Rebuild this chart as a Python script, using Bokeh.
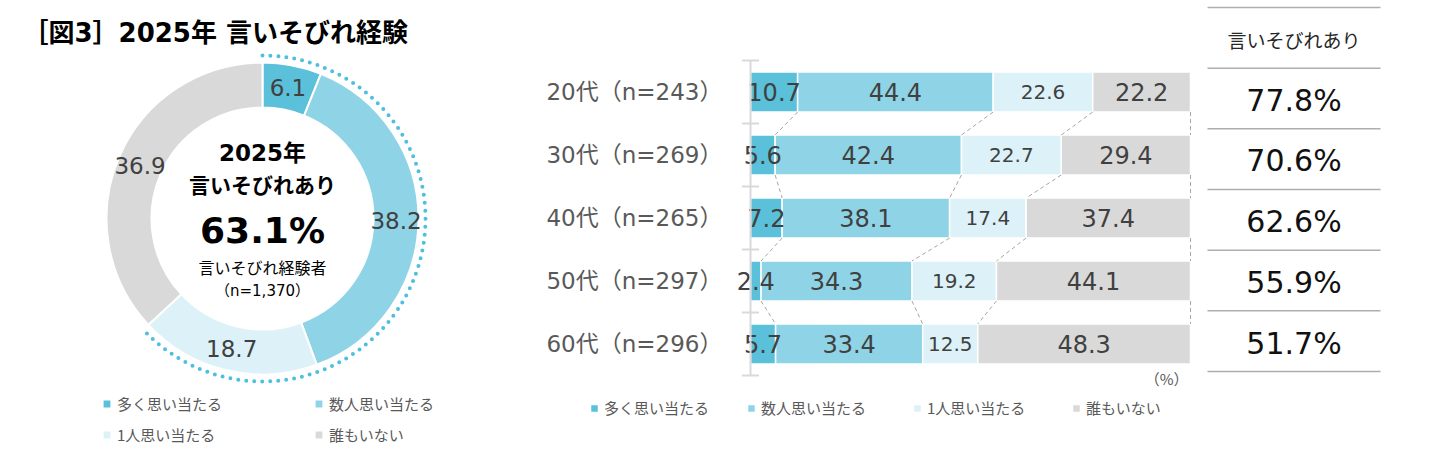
import math
from bokeh.plotting import figure
from bokeh.layouts import row
from bokeh.models import (Range1d, ColumnDataSource, Legend, LegendItem)
from bokeh.core.properties import value, field
from bokeh.embed import file_html
from bokeh.resources import INLINE

# ---------------- data ----------------
title_text = "［図3］2025年 言いそびれ経験"
answer_labels = ["多く思い当たる", "数人思い当たる", "1人思い当たる", "誰もいない"]
colors = ["#5BC0DA", "#8FD4E6", "#DDF2F8", "#D9D9D9"]

donut_values = [6.1, 38.2, 18.7, 36.9]
donut_center_lines = ["2025年", "言いそびれあり", "63.1%", "言いそびれ経験者", "（n=1,370）"]

age_labels = ["20代（n=243）", "30代（n=269）", "40代（n=265）", "50代（n=297）", "60代（n=296）"]
many = [10.7, 5.6, 7.2, 2.4, 5.7]
several = [44.4, 42.4, 38.1, 34.3, 33.4]
one = [22.6, 22.7, 17.4, 19.2, 12.5]
nobody = [22.2, 29.4, 37.4, 44.1, 48.3]

table_header = "言いそびれあり"
table_values = ["77.8%", "70.6%", "62.6%", "55.9%", "51.7%"]

# ---------------- fonts / styles ----------------
JP = "Noto Sans CJK JP"
MIX = "DejaVu Sans, Noto Sans CJK JP"
NUM = "DejaVu Sans"
LABEL_GRAY = "#404040"
LEG_GRAY = "#595959"
AXIS_GRAY = "#D9D9D9"
H = 460


def base_fig(width, xr, yr):
    p = figure(width=width, height=H, x_range=xr, y_range=yr,
               output_backend="svg", toolbar_location=None,
               x_axis_location=None, y_axis_location=None, min_border=0,
               outline_line_color=None, background_fill_color="white",
               border_fill_color="white")
    p.xgrid.visible = False
    p.ygrid.visible = False
    return p


def style_legend(lg, spacing, glyph=10):
    lg.label_text_font = JP
    lg.label_text_font_size = "15px"
    lg.label_text_color = LEG_GRAY
    lg.glyph_width = glyph
    lg.glyph_height = glyph
    lg.label_standoff = 5
    lg.label_height = 20
    lg.padding = 0
    lg.margin = 0
    lg.spacing = spacing
    lg.border_line_color = None
    lg.background_fill_alpha = 0


# ================= donut (1 unit = 1 px, centre of ring at origin) =================
pa = base_fig(470, Range1d(-262, 208), Range1d(218 - H, 218))

R_OUT, R_IN, R_DOT = 156, 111, 163
total = sum(donut_values)
starts, ends, lx, ly = [], [], [], []
c = 0.0
for v in donut_values:
    a0 = math.pi / 2 - 2 * math.pi * c / total
    c += v
    a1 = math.pi / 2 - 2 * math.pi * c / total
    starts.append(a0)
    ends.append(a1)
    mid = (a0 + a1) / 2
    rm = (R_OUT + R_IN) / 2
    lx.append(rm * math.cos(mid))
    ly.append(rm * math.sin(mid))

dsrc = ColumnDataSource(dict(start=starts, end=ends, color=colors,
                             lx=lx, ly=ly, txt=[f"{v:.1f}" for v in donut_values]))
wr = pa.annular_wedge(x=0, y=0, inner_radius=R_IN, outer_radius=R_OUT,
                      start_angle="start", end_angle="end", direction="clock",
                      fill_color="color", line_color="white", line_width=2, source=dsrc)
pa.text(x="lx", y="ly", text="txt", source=dsrc, text_font=value(NUM),
        text_font_size="23px", text_color=LABEL_GRAY, text_align="center",
        text_baseline="middle")

said_share = sum(donut_values[:3]) / total
pa.arc(x=0, y=0, radius=R_DOT, start_angle=math.pi / 2,
       end_angle=math.pi / 2 - 2 * math.pi * said_share, direction="clock",
       line_color="#4FBFE0", line_width=4, line_dash="0 8", line_cap="round")

center_y = [66, 33, -12, -50, -72]
center_fs = ["23px", "21px", "36px", "16px", "15px"]
center_st = ["bold", "bold", "bold", "normal", "normal"]
csrc = ColumnDataSource(dict(x=[0] * 5, y=center_y, t=donut_center_lines,
                             fs=center_fs, st=center_st))
pa.text(x="x", y="y", text="t", source=csrc, text_font=value(MIX),
        text_font_size=field("fs"), text_font_style=field("st"),
        text_color="#000000", text_align="center", text_baseline="middle")

pa.text(x=[-240], y=[186], text=[title_text], text_font=value(MIX),
        text_font_size="26px", text_font_style="bold", text_color="#000000",
        text_align="left", text_baseline="middle")

lg_a1 = Legend(items=[LegendItem(label=value(answer_labels[0]), renderers=[wr], index=0),
                      LegendItem(label=value(answer_labels[2]), renderers=[wr], index=2)],
               location=(101, 15), orientation="vertical")
lg_a2 = Legend(items=[LegendItem(label=value(answer_labels[1]), renderers=[wr], index=1),
                      LegendItem(label=value(answer_labels[3]), renderers=[wr], index=3)],
               location=(313, 15), orientation="vertical")
for lg in (lg_a1, lg_a2):
    style_legend(lg, 10, glyph=11)
    pa.add_layout(lg)

# ================= stacked bars =================
# x: 0..100 % maps to page x 750..1190 ; rows are 63 px apart starting at y=60
n = len(age_labels)
X0_PX, PX_PER_PCT, FIG_B_LEFT, FIG_B_W = 750, 4.4, 470, 730
ROW_PX, TOP_PX = 63, 60
xb = Range1d(-(X0_PX - FIG_B_LEFT) / PX_PER_PCT, (FIG_B_LEFT + FIG_B_W - X0_PX) / PX_PER_PCT)
yb = Range1d((H - TOP_PX) / ROW_PX - 0.5, -TOP_PX / ROW_PX - 0.5)
pb = base_fig(FIG_B_W, xb, yb)

series = [many, several, one, nobody]
keys = ["s0", "s1", "s2", "s3"]
ys = list(range(n))
row_tot = [sum(s[i] for s in series) for i in range(n)]
bdata = dict(y=ys)
for k, s in zip(keys, series):
    bdata[k] = [s[i] / row_tot[i] * 100 for i in range(n)]
bsrc = ColumnDataSource(bdata)
BAR_H = 0.635
brs = pb.hbar_stack(keys, y="y", height=BAR_H, color=colors, line_color="white",
                    line_width=1.5, source=bsrc)

cums = []
for i in range(n):
    acc = [0.0]
    for k in keys:
        acc.append(acc[-1] + bdata[k][i])
    cums.append(acc)

tx, ty, tt, tfs = [], [], [], []
for i in range(n):
    for j, s in enumerate(series):
        tx.append((cums[i][j] + cums[i][j + 1]) / 2)
        ty.append(i)
        tt.append(f"{s[i]:.1f}")
        tfs.append("20px" if j == 2 else "24px")
tsrc = ColumnDataSource(dict(x=tx, y=ty, t=tt, fs=tfs))
pb.text(x="x", y="y", text="t", source=tsrc, text_font=value(NUM),
        text_font_size=field("fs"), text_color=LABEL_GRAY,
        text_align="center", text_baseline="middle")

cx, cy = [], []
for i in range(n - 1):
    for k in range(1, len(keys) + 1):
        cx.append([cums[i][k], cums[i + 1][k]])
        cy.append([i + BAR_H / 2, i + 1 - BAR_H / 2])
pb.multi_line(xs=cx, ys=cy, line_color="#A6A6A6", line_width=1, line_dash="4 3")

# category axis (line, boundary ticks, labels)
bounds = [i - 0.5 for i in range(n + 1)]
pb.line(x=[0, 0], y=[bounds[0], bounds[-1]], line_color=AXIS_GRAY, line_width=2)
pb.scatter(x=[0] * len(bounds), y=bounds, marker="dash", size=17,
           line_color=AXIS_GRAY, line_width=2)
pb.text(x=[0] * n, y=ys, text=age_labels, x_offset=-28, text_font=value(MIX),
        text_font_size="23px", text_color=LEG_GRAY, text_align="right",
        text_baseline="middle")

# one legend entry per box so each sits where the reference puts it
leg_left = [119, 276, 442, 601]
for lab, r, lx_ in zip(answer_labels, brs, leg_left):
    lg_b = Legend(items=[LegendItem(label=value(lab), renderers=[r])],
                  location=(lx_, 42), orientation="horizontal")
    style_legend(lg_b, 0, glyph=10)
    pb.add_layout(lg_b)

pb.text(x=[100], y=[n - 0.45], text=["（%）"], x_offset=-2, text_font=value(JP),
        text_font_size="15px", text_color=LEG_GRAY, text_align="right",
        text_baseline="middle")

# ================= table =================
# table lines run from page x 1207..1380 (0..1) ; row lines every 60.67 px from y=7
T_X0, T_X1, FIG_C_LEFT, T_Y0, T_ROW = 1207, 1380, 1200, 7, 60.67
FIG_C_W = 1451 - FIG_C_LEFT
tw = T_X1 - T_X0
xc = Range1d(-(T_X0 - FIG_C_LEFT) / tw, (1451 - T_X0) / tw)
yc = Range1d((H - T_Y0) / T_ROW, -T_Y0 / T_ROW)
pc = base_fig(FIG_C_W, xc, yc)
rows_total = len(table_values) + 1
lines_y = list(range(rows_total + 1))
pc.segment(x0=[0] * len(lines_y), x1=[1] * len(lines_y), y0=lines_y, y1=lines_y,
           line_color="#AEAEAE", line_width=1.5)
pc.text(x=[0.5], y=[0.53], text=[table_header], text_font=value(JP),
        text_font_size="19px", text_color="#262626", text_align="center",
        text_baseline="middle")
pc.text(x=[0.5] * len(table_values), y=[i + 1.53 for i in range(len(table_values))],
        text=table_values, text_font=value(NUM), text_font_size="30px",
        text_color="#111111", text_align="center", text_baseline="middle")

layout = row(pa, pb, pc, spacing=0)
open("out.html", "w").write(file_html(layout, INLINE))
